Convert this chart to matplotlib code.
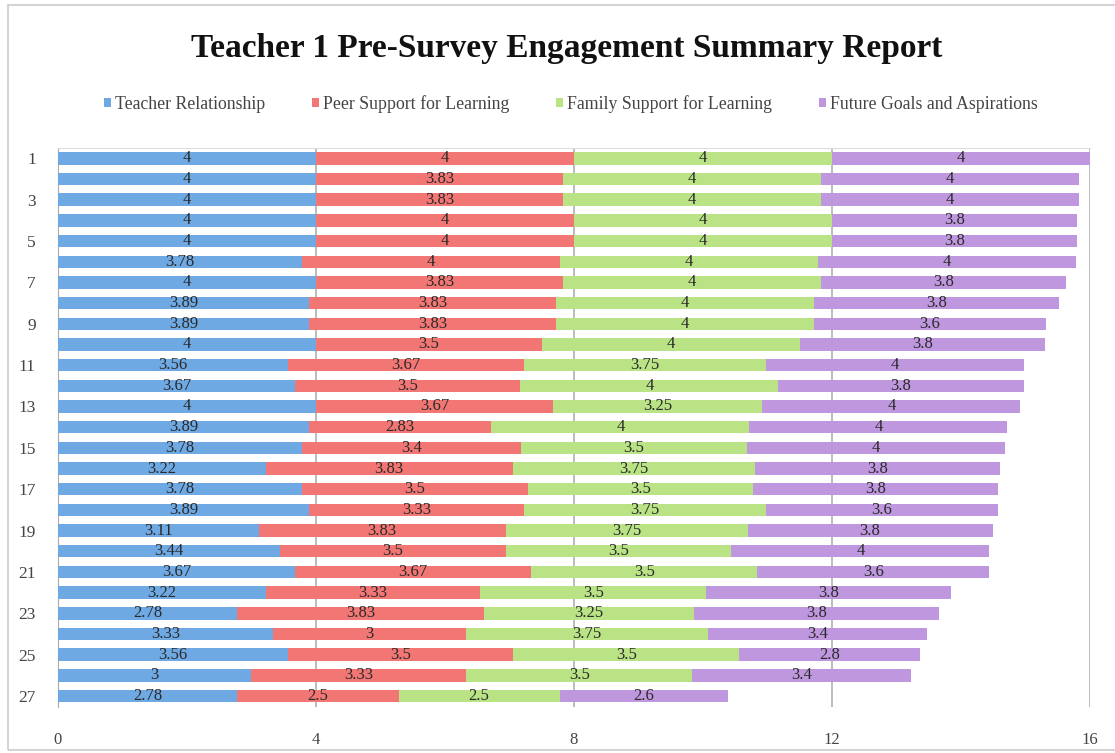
import matplotlib
matplotlib.use("Agg")
import matplotlib.pyplot as plt
from matplotlib.patches import Rectangle
import numpy as np

rows = list(range(1, 28))
series_names = ["Teacher Relationship", "Peer Support for Learning",
                "Family Support for Learning", "Future Goals and Aspirations"]
teacher = [4, 4, 4, 4, 4, 3.78, 4, 3.89, 3.89, 4, 3.56, 3.67, 4, 3.89, 3.78,
           3.22, 3.78, 3.89, 3.11, 3.44, 3.67, 3.22, 2.78, 3.33, 3.56, 3, 2.78]
peer = [4, 3.83, 3.83, 4, 4, 4, 3.83, 3.83, 3.83, 3.5, 3.67, 3.5, 3.67, 2.83, 3.4,
        3.83, 3.5, 3.33, 3.83, 3.5, 3.67, 3.33, 3.83, 3, 3.5, 3.33, 2.5]
family = [4, 4, 4, 4, 4, 4, 4, 4, 4, 4, 3.75, 4, 3.25, 4, 3.5,
          3.75, 3.5, 3.75, 3.75, 3.5, 3.5, 3.5, 3.25, 3.75, 3.5, 3.5, 2.5]
goals = [4, 4, 4, 3.8, 3.8, 4, 3.8, 3.8, 3.6, 3.8, 4, 3.8, 4, 4, 4,
         3.8, 3.8, 3.6, 3.8, 4, 3.6, 3.8, 3.8, 3.4, 2.8, 3.4, 2.6]
x_ticks = [0, 4, 8, 12, 16]
colors = ["#6fa9e4", "#f27674", "#b9e385", "#bf97de"]

plt.rcParams["font.family"] = ["Liberation Serif", "DejaVu Serif"]

fig = plt.figure(figsize=(11.15, 7.53), dpi=100)
fig.patches.append(Rectangle((0.007, 0.004), 1.2, 0.99, transform=fig.transFigure,
                             fill=False, edgecolor="#cccccc", linewidth=1.2))
ax = fig.add_axes([0.052, 0.0611, 0.9256, 0.7424])

y = np.array(rows)
left = np.zeros(len(rows))
for name, vals, c in zip(series_names, [teacher, peer, family, goals], colors):
    vals = np.array(vals, dtype=float)
    bars = ax.barh(y, vals, left=left, height=0.6, color=c, label=name, zorder=3)
    labels = [("%g" % v) for v in vals]
    ax.bar_label(bars, labels=labels, label_type="center", fontsize=12,
                 color="#2a2a2a")
    left = left + vals

ax.set_xlim(0, 16)
ax.set_ylim(27.53, 0.5)
ax.set_xticks(x_ticks)
ax.set_xticklabels([str(t) for t in x_ticks], fontsize=12, color="#444444")
ax.set_yticks(rows[::2])
ax.set_yticklabels([str(r) for r in rows[::2]], fontsize=12.5, color="#444444")
ax.tick_params(axis="x", length=0, pad=18)
ax.tick_params(axis="y", length=0, pad=16)
ax.grid(axis="x", color="#b0b0b0", linewidth=1.2, zorder=0)
ax.spines["right"].set_visible(False)
ax.spines["top"].set_color("#dddddd")
ax.spines["left"].set_color("#aaaaaa")
ax.spines["bottom"].set_visible(False)

fig.text(0.508, 1 - 48 / 753, "Teacher 1 Pre-Survey Engagement Summary Report",
         ha="center", va="center", fontsize=24, fontweight="bold", color="#111111")
fig.legend(loc="center", bbox_to_anchor=(0.512, 1 - 104 / 753), ncol=4,
           frameon=False, fontsize=12.8, handlelength=0.4, handleheight=0.4,
           handletextpad=0.25, columnspacing=2.6, labelcolor="#444444")

fig.savefig("out.png", dpi=100)
